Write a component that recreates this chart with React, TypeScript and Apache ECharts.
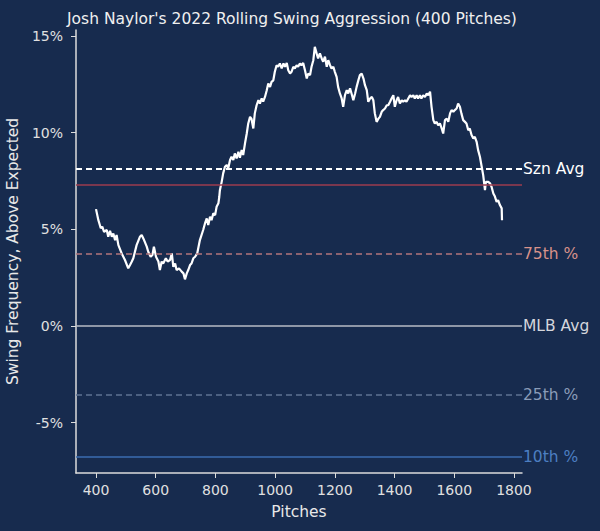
import React, { useEffect, useRef } from 'react'
import * as echarts from 'echarts'

// rolling window end (pitch number) and swing rate above expected (%)
const pitches = [
  400, 408, 416, 421, 427, 436, 441, 447, 453, 458, 464, 469, 475, 486, 497, 508, 514, 520, 525, 536,
  547, 553, 561, 570, 575, 583, 589, 594, 601, 609, 614, 620, 625, 634, 640, 648, 654, 659, 665, 670,
  678, 687, 693, 698, 704, 709, 715, 720, 726, 732, 739, 748, 759, 765, 771, 776, 782, 787, 793, 799,
  804, 810, 813, 815, 821, 826, 832, 838, 843, 849, 854, 860, 865, 871, 877, 882, 888, 893, 899, 905,
  910, 916, 921, 927, 932, 938, 944, 949, 955, 960, 966, 972, 977, 983, 988, 994, 999, 1005, 1010, 1016,
  1022, 1028, 1033, 1039, 1044, 1050, 1055, 1061, 1066, 1072, 1077, 1083, 1088, 1094, 1100, 1106, 1111, 1117, 1122, 1128,
  1133, 1139, 1144, 1150, 1156, 1161, 1167, 1173, 1178, 1184, 1189, 1195, 1200, 1206, 1211, 1217, 1223, 1228, 1234, 1240,
  1245, 1251, 1256, 1262, 1268, 1273, 1279, 1284, 1290, 1296, 1301, 1307, 1312, 1318, 1324, 1329, 1334, 1340, 1346, 1351,
  1357, 1362, 1368, 1374, 1379, 1385, 1390, 1396, 1401, 1407, 1412, 1418, 1424, 1429, 1435, 1440, 1446, 1452, 1457, 1463,
  1468, 1474, 1479, 1485, 1490, 1496, 1502, 1508, 1513, 1519, 1524, 1530, 1535, 1541, 1546, 1552, 1558, 1563, 1569, 1575,
  1580, 1586, 1591, 1597, 1602, 1608, 1613, 1619, 1624, 1630, 1636, 1641, 1647, 1652, 1658, 1664, 1669, 1675, 1680, 1686,
  1692, 1697, 1703, 1706, 1709, 1714, 1720, 1725, 1731, 1736, 1742, 1747, 1753, 1759, 1760,
]
const swingAbove = [
  6.04, 5.47, 5.05, 5.13, 4.87, 4.96, 4.61, 4.92, 4.61, 4.78, 4.44, 4.7, 4.18, 3.75, 3.41, 2.98, 3.15, 3.33, 3.5, 4.18,
  4.61, 4.7, 4.44, 4.1, 3.84, 3.58, 3.67, 4.1, 3.58, 3.33, 2.89, 3.33, 3.23, 3.5, 3.33, 3.41, 3.75, 3.06, 3.23, 2.89,
  2.98, 2.81, 2.72, 2.41, 2.72, 2.89, 3.15, 3.23, 3.5, 3.58, 3.75, 4.44, 4.96, 5.3, 5.56, 5.22, 5.65, 5.47, 5.82, 5.73,
  6.16, 6.34, 6.68, 7.02, 7.45, 7.89, 8.23, 8.32, 8.15, 8.58, 8.75, 8.58, 8.92, 8.66, 9.0, 8.7, 9.1, 8.84, 9.43, 9.95,
  10.47, 10.81, 10.7, 10.21, 10.99, 11.41, 11.67, 11.5, 11.76, 11.6, 11.84, 12.19, 12.53, 12.36, 12.62, 12.7, 13.14, 13.48, 13.4, 13.57,
  13.31, 13.57, 13.4, 13.6, 13.22, 13.05, 13.14, 13.4, 13.31, 13.48, 13.4, 13.57, 13.48, 13.6, 13.22, 12.79, 13.05, 12.97, 13.4, 13.74,
  14.43, 14.09, 13.83, 14.09, 13.83, 13.66, 13.92, 13.4, 13.74, 13.48, 13.31, 13.4, 13.14, 12.88, 12.36, 12.02, 11.76, 11.33, 11.93, 12.19,
  12.02, 12.28, 12.02, 11.67, 12.02, 12.36, 12.71, 12.97, 13.05, 12.79, 12.45, 12.19, 11.59, 11.76, 11.84, 11.67, 10.99, 10.55, 10.72, 10.81,
  11.07, 11.16, 11.24, 11.41, 11.41, 11.59, 11.76, 11.93, 11.33, 11.67, 11.84, 11.5, 11.67, 11.59, 11.67, 11.59, 11.76, 11.93, 11.84, 11.93,
  11.76, 11.93, 11.76, 11.93, 11.76, 11.93, 11.84, 12.02, 11.93, 12.11, 11.33, 10.64, 10.47, 10.55, 10.38, 10.47, 10.21, 9.95, 10.64, 10.72,
  10.55, 10.99, 11.16, 11.07, 11.16, 11.24, 11.5, 11.33, 10.99, 10.64, 10.55, 10.47, 10.12, 10.21, 9.87, 9.69, 9.78, 9.52, 9.09, 8.75,
  8.23, 7.8, 7.02, 7.45, 7.45, 7.45, 7.37, 7.2, 6.85, 6.7, 6.42, 6.5, 6.25, 6.08, 5.47,
]

// reference lines
const refNames = ['Szn Avg', '', '75th %', 'MLB Avg', '25th %', '10th %']
const refValues = [8.11, 7.28, 3.72, 0, -3.56, -6.77]
const refColors = ['#ffffff', '#9c3c4f', '#b2767c', '#b9bcc6', '#5f7393', '#3b6cb0']
const refLabelColors = ['#ffffff', '#9c3c4f', '#d8928a', '#d4d6dc', '#8a9cb8', '#4d7fc2']
const refDashed = [true, false, true, false, true, false]

const yTicks = [-5, 0, 5, 10, 15]
const xTicks = [400, 600, 800, 1000, 1200, 1400, 1600, 1800]

const BG = '#172b4e'
const FONT = 'DejaVu Sans'

const App = () => {
  const chartRef = useRef<HTMLDivElement | null>(null)

  useEffect(() => {
    if (!chartRef.current) return
    document.body.style.margin = '0'
    document.body.style.background = BG

    const myChart = echarts.init(chartRef.current, null, { renderer: 'svg' })

    const lineData = pitches.map((p, i) => [p, swingAbove[i]])

    const markData = refValues.map((v, i) => ({
      yAxis: v,
      lineStyle: {
        color: refColors[i],
        width: i === 0 ? 2 : 1.6,
        type: refDashed[i] ? [6, 4] : 'solid',
      },
      label: {
        show: refNames[i] !== '',
        position: 'end',
        distance: 1,
        formatter: refNames[i],
        color: refLabelColors[i],
        fontSize: 15.5,
        fontFamily: FONT,
      },
    }))

    const option = {
      animation: false,
      backgroundColor: BG,
      textStyle: { fontFamily: FONT },
      title: {
        text: "Josh Naylor's 2022 Rolling Swing Aggression (400 Pitches)",
        left: 62,
        top: 6,
        textStyle: { color: '#f0f0f0', fontSize: 15.5, fontWeight: 'normal', fontFamily: FONT },
      },
      grid: { left: 76, right: 78, top: 30, bottom: 58, containLabel: false, outerBoundsMode: 'none' },
      xAxis: {
        type: 'value',
        min: 333,
        max: 1827,
        name: 'Pitches',
        nameLocation: 'middle',
        nameGap: 31,
        nameTextStyle: { color: '#e8e8e8', fontSize: 15.5, fontFamily: FONT },
        axisLine: { show: true, onZero: false, lineStyle: { color: '#dcdcdc', width: 1.5 } },
        axisTick: { show: true, length: 5, customValues: xTicks, lineStyle: { color: '#dcdcdc' } },
        axisLabel: {
          customValues: xTicks,
          color: '#e0e0e0',
          fontSize: 14,
          margin: 10,
          fontFamily: FONT,
          formatter: (v: number) => String(v),
        },
        splitLine: { show: false },
      },
      yAxis: {
        type: 'value',
        min: -7.6,
        max: 15.3,
        name: 'Swing Frequency, Above Expected',
        nameLocation: 'middle',
        nameGap: 48,
        nameTextStyle: { color: '#e8e8e8', fontSize: 15.5, fontFamily: FONT },
        axisLine: { show: true, onZero: false, lineStyle: { color: '#dcdcdc', width: 1.5 } },
        axisTick: { show: true, length: 5, customValues: yTicks, lineStyle: { color: '#dcdcdc' } },
        axisLabel: {
          customValues: yTicks,
          color: '#e0e0e0',
          fontSize: 14,
          margin: 13,
          fontFamily: FONT,
          formatter: (v: number) => `${v}%`,
        },
        splitLine: { show: false },
      },
      series: [
        {
          type: 'line',
          data: lineData,
          showSymbol: false,
          lineStyle: { color: '#ffffff', width: 2.2 },
          z: 3,
          markLine: {
            silent: true,
            symbol: ['none', 'none'],
            data: markData,
          },
        },
      ],
    }

    myChart.setOption(option)

    return () => {
      myChart.dispose()
    }
  }, [])

  return <div ref={chartRef} style={{ width: 600, height: 531 }} />
}

export default App
